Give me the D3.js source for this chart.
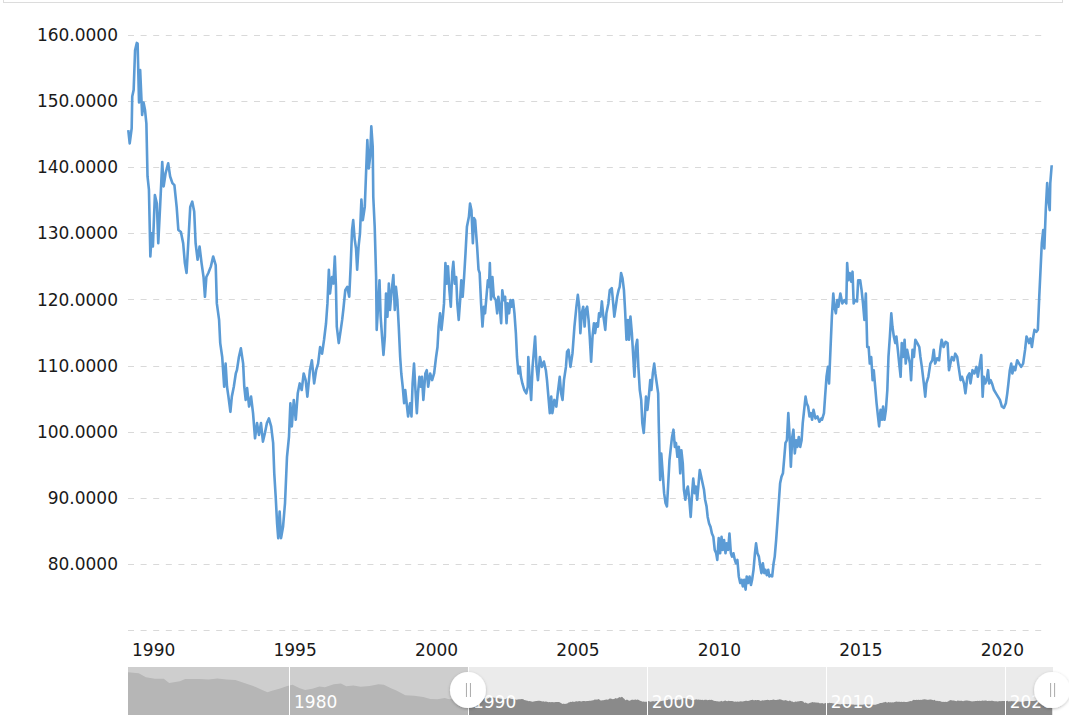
<!DOCTYPE html>
<html>
<head>
<meta charset="utf-8">
<script src="https://cdn.jsdelivr.net/npm/d3@7"></script>
<style>
  body { margin: 0; background: #fff; }
  svg { display: block; font-family: "DejaVu Sans", Verdana, sans-serif; }
</style>
</head>
<body>
<div id="chart"></div>
<script>
// USD / JPY exchange rate

const yTicks = [70, 80, 90, 100, 110, 120, 130, 140, 150, 160];
const yLabelTicks = [80, 90, 100, 110, 120, 130, 140, 150, 160];
const xTicks = [1990, 1995, 2000, 2005, 2010, 2015, 2020];
const navTicks = [1980, 1990, 2000, 2010, 2020];

// navigator only: history before the zoomed range
const navEarly = [
  [1971.0, 358], [1971.6, 350], [1972.0, 315], [1972.5, 301], [1973.0, 302], [1973.3, 265],
  [1973.9, 280], [1974.2, 300], [1974.6, 300], [1975.0, 300], [1975.5, 296], [1976.0, 303],
  [1976.5, 296], [1977.0, 290], [1977.5, 266], [1978.0, 240], [1978.5, 205], [1978.8, 185],
  [1979.0, 195], [1979.5, 218], [1979.9, 240], [1980.2, 250], [1980.6, 220], [1980.9, 205],
  [1981.3, 215], [1981.7, 235], [1982.0, 228], [1982.5, 255], [1982.9, 260], [1983.2, 238],
  [1983.6, 243], [1984.0, 233], [1984.5, 240], [1985.0, 255], [1985.3, 250], [1985.7, 220],
  [1986.0, 200], [1986.5, 160], [1987.0, 155], [1987.5, 145], [1987.9, 128], [1988.3, 125],
  [1988.7, 135], [1988.95, 125], [1989.3, 135], [1989.6, 143], [1989.9, 144]
];

// [year, yen per dollar]
const usdJpy = [
  [1990.01, 145.6], [1990.06, 143.6], [1990.13, 145.9], [1990.15, 150.7], [1990.20, 151.7],
  [1990.25, 157.7], [1990.31, 158.8], [1990.34, 158.7], [1990.39, 149.8], [1990.43, 154.7],
  [1990.50, 147.9], [1990.55, 149.8], [1990.60, 148.7], [1990.65, 146.6], [1990.69, 138.6],
  [1990.74, 136.6], [1990.79, 126.5], [1990.84, 130.0], [1990.88, 128.0], [1990.95, 135.8],
  [1991.02, 134.5], [1991.07, 128.5], [1991.14, 134.5], [1991.21, 140.8], [1991.26, 137.1],
  [1991.33, 139.1], [1991.42, 140.6], [1991.49, 138.6], [1991.57, 137.6], [1991.64, 137.3],
  [1991.72, 134.0], [1991.78, 130.5], [1991.87, 130.2], [1991.95, 128.5], [1992.01, 125.5],
  [1992.07, 124.0], [1992.13, 128.5], [1992.20, 134.0], [1992.27, 134.8], [1992.34, 133.3],
  [1992.39, 128.5], [1992.46, 126.0], [1992.53, 128.0], [1992.60, 125.5], [1992.67, 123.4],
  [1992.72, 120.4], [1992.77, 123.4], [1992.84, 124.0], [1992.93, 125.0], [1993.01, 126.5],
  [1993.10, 125.2], [1993.14, 119.4], [1993.22, 116.9], [1993.26, 113.4], [1993.33, 111.3],
  [1993.40, 106.8], [1993.45, 110.3], [1993.50, 106.8], [1993.55, 105.3], [1993.62, 103.0],
  [1993.67, 105.3], [1993.74, 106.8], [1993.81, 108.8], [1993.85, 109.3], [1993.92, 111.3],
  [1993.99, 112.6], [1994.07, 110.3], [1994.11, 106.8], [1994.16, 104.8], [1994.21, 106.6],
  [1994.28, 103.8], [1994.35, 105.3], [1994.42, 102.8], [1994.49, 99.0], [1994.56, 101.3],
  [1994.63, 99.5], [1994.70, 101.3], [1994.77, 98.5], [1994.84, 99.8], [1994.91, 101.3],
  [1994.98, 102.0], [1995.06, 100.8], [1995.13, 98.3], [1995.17, 93.7], [1995.22, 90.2],
  [1995.27, 86.1], [1995.31, 83.9], [1995.36, 87.9], [1995.41, 83.9], [1995.48, 85.6],
  [1995.55, 89.2], [1995.62, 96.2], [1995.69, 99.2], [1995.74, 104.3], [1995.79, 100.8],
  [1995.86, 104.8], [1995.93, 101.8], [1996.00, 105.8], [1996.07, 107.3], [1996.14, 106.3],
  [1996.21, 108.8], [1996.28, 107.8], [1996.34, 105.3], [1996.43, 109.3], [1996.50, 110.8],
  [1996.58, 107.3], [1996.65, 109.3], [1996.72, 110.3], [1996.79, 112.8], [1996.86, 111.8],
  [1996.93, 113.9], [1997.00, 116.4], [1997.05, 119.4], [1997.10, 124.5], [1997.14, 120.9],
  [1997.21, 123.4], [1997.26, 122.4], [1997.31, 126.5], [1997.35, 122.0], [1997.38, 115.9],
  [1997.45, 113.4], [1997.52, 115.4], [1997.57, 116.9], [1997.61, 118.4], [1997.68, 121.4],
  [1997.75, 121.9], [1997.82, 120.4], [1997.87, 125.0], [1997.92, 130.5], [1997.96, 132.0],
  [1998.01, 129.2], [1998.06, 127.7], [1998.10, 124.5], [1998.15, 128.0], [1998.20, 130.0],
  [1998.25, 135.1], [1998.30, 132.0], [1998.37, 134.0], [1998.41, 138.6], [1998.46, 144.1],
  [1998.51, 139.8], [1998.56, 141.6], [1998.60, 146.2], [1998.65, 143.1], [1998.67, 135.5],
  [1998.72, 131.0], [1998.77, 123.4], [1998.79, 115.4], [1998.84, 118.9], [1998.89, 122.9],
  [1998.93, 117.4], [1998.98, 114.4], [1999.03, 111.6], [1999.08, 114.4], [1999.12, 120.9],
  [1999.17, 117.4], [1999.22, 122.4], [1999.26, 118.4], [1999.31, 120.9], [1999.38, 123.7],
  [1999.43, 118.4], [1999.47, 121.9], [1999.52, 119.9], [1999.57, 115.9], [1999.62, 111.3],
  [1999.66, 108.8], [1999.71, 106.8], [1999.76, 104.3], [1999.80, 106.3], [1999.85, 104.3],
  [1999.90, 102.3], [1999.97, 104.3], [2000.02, 102.3], [2000.06, 107.3], [2000.11, 110.3],
  [2000.16, 106.3], [2000.21, 102.8], [2000.25, 105.8], [2000.30, 108.3], [2000.35, 106.8],
  [2000.39, 108.3], [2000.44, 104.8], [2000.51, 108.8], [2000.56, 109.3], [2000.61, 106.8],
  [2000.68, 108.8], [2000.75, 107.8], [2000.82, 108.8], [2000.89, 111.3], [2000.94, 112.8],
  [2000.98, 115.9], [2001.03, 117.9], [2001.08, 115.4], [2001.13, 117.4], [2001.17, 119.4],
  [2001.22, 125.5], [2001.27, 122.4], [2001.31, 125.0], [2001.36, 121.4], [2001.41, 118.9],
  [2001.46, 124.0], [2001.50, 125.7], [2001.55, 122.4], [2001.60, 123.4], [2001.64, 119.4],
  [2001.69, 116.9], [2001.74, 119.9], [2001.78, 122.9], [2001.83, 120.4], [2001.88, 123.4],
  [2001.93, 127.0], [2001.98, 131.0], [2002.05, 132.5], [2002.09, 134.5], [2002.14, 133.5],
  [2002.19, 128.5], [2002.23, 132.3], [2002.27, 132.0], [2002.34, 128.0], [2002.39, 124.5],
  [2002.43, 124.0], [2002.48, 119.4], [2002.53, 115.9], [2002.58, 118.9], [2002.62, 117.9],
  [2002.67, 120.4], [2002.72, 122.9], [2002.76, 121.9], [2002.79, 125.5], [2002.83, 120.0],
  [2002.88, 123.4], [2002.93, 120.4], [2003.00, 119.9], [2003.05, 117.9], [2003.09, 120.4],
  [2003.14, 118.9], [2003.19, 116.4], [2003.23, 121.4], [2003.28, 119.9], [2003.33, 120.4],
  [2003.38, 116.4], [2003.42, 119.4], [2003.47, 117.9], [2003.52, 119.9], [2003.56, 118.9],
  [2003.61, 119.9], [2003.66, 117.9], [2003.71, 114.9], [2003.75, 111.3], [2003.80, 108.8],
  [2003.85, 109.8], [2003.89, 108.3], [2003.94, 107.3], [2004.01, 106.3], [2004.08, 105.8],
  [2004.13, 106.8], [2004.15, 111.3], [2004.20, 107.8], [2004.25, 104.8], [2004.30, 109.8],
  [2004.34, 111.8], [2004.39, 114.4], [2004.44, 109.8], [2004.49, 107.8], [2004.56, 111.3],
  [2004.63, 109.8], [2004.70, 110.6], [2004.77, 109.3], [2004.81, 107.8], [2004.86, 105.3],
  [2004.91, 102.8], [2004.96, 105.3], [2005.00, 102.8], [2005.07, 104.8], [2005.14, 103.8],
  [2005.19, 105.8], [2005.26, 108.3], [2005.31, 105.8], [2005.36, 104.8], [2005.41, 107.8],
  [2005.48, 109.8], [2005.52, 112.1], [2005.57, 112.4], [2005.64, 109.8], [2005.71, 111.8],
  [2005.78, 115.9], [2005.85, 118.9], [2005.90, 120.7], [2005.95, 118.9], [2005.99, 114.9],
  [2006.04, 117.9], [2006.09, 118.9], [2006.14, 115.9], [2006.18, 118.4], [2006.23, 118.9],
  [2006.28, 116.9], [2006.32, 114.4], [2006.37, 110.6], [2006.42, 114.4], [2006.47, 116.4],
  [2006.51, 114.9], [2006.56, 116.4], [2006.61, 115.9], [2006.65, 117.9], [2006.70, 117.4],
  [2006.75, 119.7], [2006.79, 117.9], [2006.87, 115.4], [2006.91, 117.9], [2006.98, 119.4],
  [2007.03, 121.4], [2007.10, 121.7], [2007.15, 119.4], [2007.19, 117.4], [2007.24, 118.9],
  [2007.29, 120.4], [2007.34, 121.4], [2007.38, 121.9], [2007.43, 124.0], [2007.48, 123.2],
  [2007.53, 121.4], [2007.57, 118.4], [2007.62, 113.9], [2007.67, 116.9], [2007.71, 113.9],
  [2007.76, 117.4], [2007.81, 114.9], [2007.86, 111.3], [2007.90, 108.3], [2007.95, 112.8],
  [2008.00, 113.9], [2008.04, 109.8], [2008.09, 106.3], [2008.14, 104.8], [2008.18, 101.3],
  [2008.23, 99.8], [2008.27, 102.3], [2008.31, 105.3], [2008.36, 103.3], [2008.41, 105.3],
  [2008.46, 107.8], [2008.50, 106.3], [2008.55, 108.8], [2008.60, 110.3], [2008.64, 108.8],
  [2008.69, 107.3], [2008.74, 105.8], [2008.76, 101.3], [2008.81, 92.7], [2008.85, 96.7],
  [2008.90, 93.7], [2008.95, 90.7], [2009.00, 89.2], [2009.05, 88.7], [2009.09, 91.7],
  [2009.14, 95.7], [2009.19, 97.7], [2009.23, 99.2], [2009.28, 100.3], [2009.33, 97.7],
  [2009.37, 98.3], [2009.42, 96.2], [2009.47, 97.7], [2009.52, 93.7], [2009.56, 97.2],
  [2009.61, 95.2], [2009.65, 91.2], [2009.70, 89.7], [2009.75, 91.2], [2009.79, 91.7],
  [2009.84, 89.7], [2009.89, 87.1], [2009.94, 90.7], [2009.98, 92.9], [2010.03, 90.7],
  [2010.07, 91.7], [2010.12, 89.7], [2010.17, 92.2], [2010.21, 94.2], [2010.26, 93.2],
  [2010.31, 92.2], [2010.36, 91.2], [2010.40, 89.7], [2010.45, 88.7], [2010.49, 87.1],
  [2010.54, 86.1], [2010.59, 85.6], [2010.64, 84.6], [2010.69, 84.1], [2010.74, 82.1],
  [2010.79, 81.6], [2010.83, 80.6], [2010.88, 83.9], [2010.93, 81.6], [2010.98, 84.1],
  [2011.02, 82.1], [2011.07, 83.6], [2011.12, 81.6], [2011.16, 83.1], [2011.21, 82.1],
  [2011.26, 84.6], [2011.31, 81.6], [2011.35, 81.1], [2011.40, 81.6], [2011.45, 80.6],
  [2011.49, 80.1], [2011.54, 80.6], [2011.59, 78.1], [2011.64, 77.1], [2011.69, 77.6],
  [2011.73, 76.6], [2011.78, 77.6], [2011.83, 76.1], [2011.87, 78.1], [2011.92, 77.1],
  [2011.97, 78.1], [2012.02, 76.8], [2012.06, 77.6], [2012.11, 79.1], [2012.16, 81.6],
  [2012.20, 83.1], [2012.25, 81.6], [2012.30, 81.1], [2012.35, 79.6], [2012.39, 78.6],
  [2012.44, 80.1], [2012.49, 78.6], [2012.53, 79.1], [2012.58, 78.3], [2012.63, 79.1],
  [2012.67, 78.1], [2012.72, 78.3], [2012.77, 78.1], [2012.82, 80.1], [2012.86, 81.1],
  [2012.91, 83.6], [2012.96, 86.6], [2013.01, 89.7], [2013.05, 92.2], [2013.10, 93.2],
  [2013.15, 93.7], [2013.19, 95.7], [2013.24, 98.3], [2013.29, 98.7], [2013.34, 102.8],
  [2013.38, 99.8], [2013.43, 94.7], [2013.48, 99.2], [2013.52, 100.3], [2013.57, 96.7],
  [2013.62, 98.7], [2013.66, 97.7], [2013.71, 99.2], [2013.76, 97.7], [2013.81, 98.7],
  [2013.85, 101.3], [2013.90, 103.3], [2013.95, 105.3], [2013.99, 104.3], [2014.04, 103.8],
  [2014.09, 102.3], [2014.14, 102.8], [2014.18, 101.8], [2014.23, 103.3], [2014.30, 102.0],
  [2014.37, 102.3], [2014.44, 101.5], [2014.51, 102.0], [2014.53, 101.8], [2014.60, 102.8],
  [2014.64, 105.3], [2014.69, 108.3], [2014.74, 109.8], [2014.78, 107.3], [2014.83, 112.4],
  [2014.88, 117.4], [2014.93, 120.9], [2014.97, 118.9], [2015.02, 117.9], [2015.07, 119.9],
  [2015.11, 118.9], [2015.18, 120.9], [2015.25, 119.4], [2015.32, 119.9], [2015.39, 119.4],
  [2015.42, 125.5], [2015.46, 122.9], [2015.51, 124.0], [2015.56, 122.7], [2015.61, 124.2],
  [2015.65, 119.4], [2015.70, 119.9], [2015.77, 119.7], [2015.81, 122.9], [2015.88, 122.9],
  [2015.93, 121.4], [2015.98, 119.4], [2016.03, 116.9], [2016.08, 120.9], [2016.13, 112.8],
  [2016.18, 112.8], [2016.22, 110.3], [2016.27, 111.3], [2016.32, 107.8], [2016.36, 109.3],
  [2016.41, 106.8], [2016.46, 104.3], [2016.51, 102.3], [2016.55, 100.8], [2016.60, 103.3],
  [2016.65, 101.8], [2016.69, 103.8], [2016.74, 101.8], [2016.79, 103.3], [2016.84, 106.3],
  [2016.88, 111.3], [2016.93, 114.4], [2016.98, 117.9], [2017.02, 115.9], [2017.07, 114.4],
  [2017.12, 113.4], [2017.16, 114.4], [2017.21, 112.4], [2017.26, 110.3], [2017.31, 108.3],
  [2017.35, 113.4], [2017.40, 111.3], [2017.45, 113.9], [2017.49, 110.3], [2017.54, 112.4],
  [2017.59, 111.3], [2017.64, 110.3], [2017.68, 107.8], [2017.73, 112.4], [2017.78, 111.3],
  [2017.83, 113.9], [2017.90, 113.4], [2017.97, 112.8], [2018.01, 111.3], [2018.06, 109.8],
  [2018.13, 107.3], [2018.18, 105.3], [2018.22, 107.3], [2018.29, 108.3], [2018.36, 110.3],
  [2018.43, 110.8], [2018.48, 112.4], [2018.53, 110.3], [2018.60, 111.1], [2018.67, 110.8],
  [2018.72, 112.8], [2018.76, 113.9], [2018.83, 112.8], [2018.90, 113.6], [2018.97, 113.4],
  [2019.02, 109.3], [2019.07, 110.3], [2019.12, 111.3], [2019.19, 110.8], [2019.24, 111.8],
  [2019.31, 111.3], [2019.36, 109.8], [2019.43, 107.8], [2019.48, 108.3], [2019.55, 107.3],
  [2019.60, 105.8], [2019.67, 108.3], [2019.74, 108.8], [2019.78, 107.3], [2019.85, 109.3],
  [2019.92, 108.8], [2019.99, 109.8], [2020.04, 108.3], [2020.11, 110.3], [2020.16, 111.6],
  [2020.21, 105.3], [2020.25, 108.3], [2020.30, 107.3], [2020.35, 107.8], [2020.40, 109.3],
  [2020.44, 107.3], [2020.49, 107.8], [2020.54, 107.3], [2020.61, 106.3], [2020.68, 105.8],
  [2020.75, 105.3], [2020.82, 104.8], [2020.89, 103.8], [2020.96, 103.6], [2021.03, 104.3],
  [2021.08, 105.8], [2021.12, 107.3], [2021.17, 109.3], [2021.22, 110.3], [2021.26, 108.8],
  [2021.31, 109.8], [2021.36, 109.3], [2021.43, 110.8], [2021.50, 110.3], [2021.57, 109.8],
  [2021.64, 110.3], [2021.71, 112.4], [2021.76, 114.4], [2021.81, 113.9], [2021.85, 113.4],
  [2021.90, 114.1], [2021.95, 112.8], [2022.00, 114.4], [2022.04, 115.4], [2022.11, 115.1],
  [2022.16, 115.4], [2022.21, 120.4], [2022.25, 124.0], [2022.30, 128.5], [2022.35, 130.5],
  [2022.39, 127.7], [2022.44, 133.5], [2022.49, 137.6], [2022.53, 135.1], [2022.58, 133.5],
  [2022.60, 137.6], [2022.65, 140.3]
];

const width = 1069, height = 715;
const plot = {left: 128, right: 1047, top: 35, bottom: 630};
const nav = {left: 128, right: 1053, top: 667, bottom: 715};

const svg = d3.select('#chart').append('svg')
    .attr('width', width).attr('height', height);

// frame edge at the very top
svg.append('rect')
    .attr('x', 3.5).attr('y', -10).attr('width', 1059).attr('height', 12.5)
    .attr('fill', 'none').attr('stroke', '#dcdcdc');

// scales
const x = d3.scaleLinear()
    .domain([1990, usdJpy[usdJpy.length - 1][0]])
    .range([plot.left, 1051.7]);
const y = d3.scaleLinear().domain([70, 160]).range([plot.bottom, plot.top]);

// horizontal grid
svg.append('g').selectAll('line')
    .data(yTicks)
    .join('line')
    .attr('x1', plot.left).attr('x2', plot.right)
    .attr('y1', d => Math.round(y(d)) + 0.5).attr('y2', d => Math.round(y(d)) + 0.5)
    .attr('stroke', '#d9d9d9')
    .attr('stroke-dasharray', '6,6.6');

// y labels
const fmt = d3.format('.4f');
svg.append('g').selectAll('text')
    .data(yLabelTicks)
    .join('text')
    .attr('x', 118).attr('y', d => y(d)).attr('dy', '0.36em')
    .attr('text-anchor', 'end')
    .attr('font-size', 17).attr('fill', '#1a1a1a')
    .text(d => fmt(d));

// x labels sit just right of their tick
svg.append('g').selectAll('text')
    .data(xTicks)
    .join('text')
    .attr('x', d => x(d) + 4).attr('y', 656)
    .attr('font-size', 17).attr('fill', '#1a1a1a')
    .text(d => d);

// main series
const line = d3.line().x(d => x(d[0])).y(d => y(d[1]));
svg.append('path')
    .datum(usdJpy)
    .attr('d', line)
    .attr('fill', 'none')
    .attr('stroke', '#5b9bd5')
    .attr('stroke-width', 2.6)
    .attr('stroke-linejoin', 'round');

// ---- navigator ----
const navData = navEarly.concat(usdJpy);
const nx = d3.scaleLinear().domain([1971, 2022.7]).range([nav.left, nav.right]);
const ny = d3.scaleLinear().domain([-11, 403]).range([nav.bottom, nav.top]);

svg.append('rect')
    .attr('x', nav.left).attr('y', nav.top)
    .attr('width', nav.right - nav.left).attr('height', nav.bottom - nav.top)
    .attr('fill', '#ebebeb');

const area = d3.area().x(d => nx(d[0])).y0(nav.bottom).y1(d => ny(d[1]));
svg.append('path')
    .datum(navData)
    .attr('d', area)
    .attr('fill', '#8a8a8a');

// unselected part is masked
const selStart = nx(x.domain()[0]), selEnd = nx(x.domain()[1]);
svg.append('rect')
    .attr('x', nav.left).attr('y', nav.top)
    .attr('width', selStart - nav.left).attr('height', nav.bottom - nav.top)
    .attr('fill', 'rgba(196,196,196,0.75)');

svg.append('g').selectAll('line')
    .data(navTicks)
    .join('line')
    .attr('x1', d => Math.round(nx(d)) + 0.5).attr('x2', d => Math.round(nx(d)) + 0.5)
    .attr('y1', nav.top).attr('y2', nav.bottom)
    .attr('stroke', '#fff');

svg.append('g').selectAll('text')
    .data(navTicks)
    .join('text')
    .attr('x', d => nx(d) + 5).attr('y', 708)
    .attr('font-size', 17).attr('fill', '#fff')
    .text(d => d);

// handles
const defs = svg.append('defs');
const shadow = defs.append('filter').attr('id', 'hshadow')
    .attr('x', '-50%').attr('y', '-50%').attr('width', '200%').attr('height', '200%');
shadow.append('feDropShadow')
    .attr('dx', 0).attr('dy', 1).attr('stdDeviation', 1.5)
    .attr('flood-color', '#000').attr('flood-opacity', 0.25);

const handles = svg.append('g').selectAll('g')
    .data([selStart, selEnd])
    .join('g')
    .attr('transform', d => `translate(${d},690)`);
handles.append('circle')
    .attr('r', 18).attr('fill', '#fff')
    .attr('filter', 'url(#hshadow)');
handles.selectAll('line')
    .data([-2, 2])
    .join('line')
    .attr('x1', d => d + 0.5).attr('x2', d => d + 0.5)
    .attr('y1', -7).attr('y2', 7)
    .attr('stroke', '#aaa');
</script>
</body>
</html>
